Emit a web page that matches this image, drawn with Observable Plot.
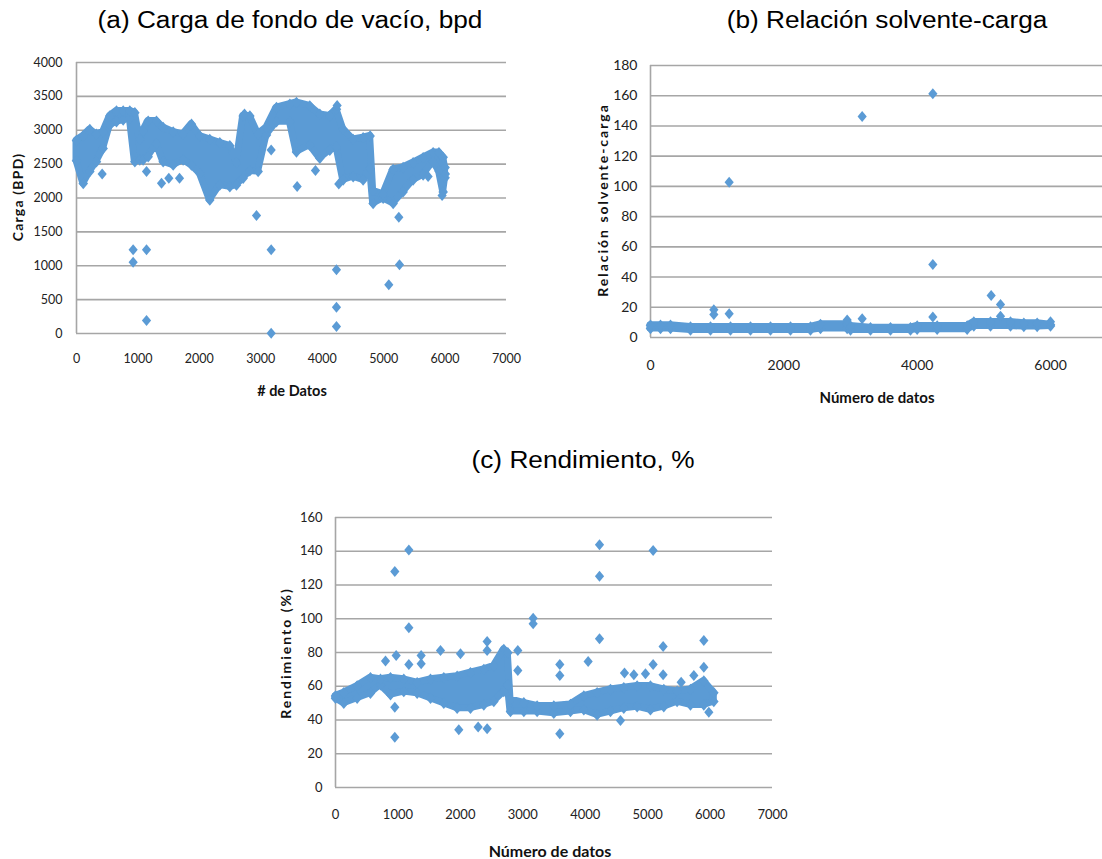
<!DOCTYPE html>
<html><head><meta charset="utf-8">
<script src="https://cdn.jsdelivr.net/npm/d3@7"></script>
<script src="https://cdn.jsdelivr.net/npm/@observablehq/plot@0.6"></script>
<style>
body{margin:0;background:#fff;}
#root{position:relative;width:1102px;height:859px;overflow:hidden;background:#fff;}
.title{position:absolute;font-family:"Liberation Sans",Arial,sans-serif;font-size:23px;color:#000;white-space:nowrap;}
.axt{position:absolute;font-family:Lato,sans-serif;font-weight:bold;font-size:14px;color:#111;white-space:nowrap;}
.panel{position:absolute;}
</style></head><body><div id="root"></div>
<script>
// ---------- Panel (a): Carga de fondo de vacío ----------
const aBandX  = [0,110,217,325,434,543,651,760,868,950,1031,1085,1167,1302,1411,1574,1736,1872,2008,2170,2333,2496,2604,2713,2822,2957,3093,3256,3473,3581,3798,3961,4124,4232,4341,4504,4666,4780,4829,4992,5155,5317,5480,5643,5806,5900,5969,6000];
const aBandLo = [2550,2215,2390,2535,2730,3075,3125,3150,3175,2535,2560,2560,2610,2800,2535,2485,2560,2485,2360,1970,2190,2165,2190,2290,2400,2390,2930,3125,3125,2680,2780,2585,2705,2755,2265,2315,2265,2435,1920,1995,1920,2090,2265,2340,2535,2400,2090,2300];
const aBandHi = [2850,2915,3010,2940,2975,3210,3285,3285,3285,3260,2865,2990,3135,3135,3040,2975,2940,3090,2915,2865,2815,2770,2520,3210,3210,2940,3040,3335,3385,3410,3360,3235,3210,3310,3015,2865,2890,2915,2105,2055,2420,2450,2520,2595,2670,2670,2600,2450];
const aOutX = [922,922,1140,1140,2930,3169,3169,3169,4232,4232,4232,5084,5247,5258,3592,5724,1384,1503,1677,1140,418,3890,4270,6006,5952,4243,2735];
const aOutY = [1235,1053,1235,192,1741,2710,1235,5,940,389,103,718,1717,1013,2170,2317,2218,2292,2292,2390,2356,2405,2208,2356,2036,3365,3241];
const aXTicks = [0,1000,2000,3000,4000,5000,6000,7000];
const aYTicks = [0,500,1000,1500,2000,2500,3000,3500,4000];

// ---------- Panel (b): Relación solvente-carga ----------
const bBandX  = [0,150,300,600,900,1200,1500,1800,2100,2400,2550,2950,3000,3300,3600,3900,4000,4300,4750,4850,5100,5400,5600,5800,6000];
const bBandLo = [6.0,6.0,6.0,4.9,4.9,4.9,4.9,4.9,4.9,4.9,6.0,6.0,4.9,4.9,4.9,4.9,5.4,5.4,5.4,7.6,7.6,7.6,7.2,7.2,7.6];
const bBandHi = [8.1,8.1,8.1,7.0,7.0,7.0,7.0,7.0,7.0,7.0,8.7,8.7,7.6,6.5,6.5,6.5,7.6,7.6,7.6,10.3,10.3,10.3,9.4,9.4,8.4];
const bOutX = [1180,3175,4235,4235,5110,5250,950,950,1180,2950,3175,4235,5250,6000];
const bOutY = [102.8,146.3,161.3,48.3,27.8,21.8,18.3,15.2,15.7,11.5,12.4,13.5,14,10.5];
const bXTicks = [0,2000,4000,6000];
const bYTicks = [0,20,40,60,80,100,120,140,160,180];

// ---------- Panel (c): Rendimiento ----------
const cBandX  = [0,133,347,560,721,881,1094,1308,1522,1735,1949,2162,2376,2536,2696,2760,2803,3017,3230,3497,3764,3978,4191,4405,4618,4832,5045,5259,5472,5686,5900,6060];
const cBandLo = [52.9,49.9,52.9,55.8,60.8,54.9,56.8,55.8,52.9,49.9,47.0,47.0,48.9,50.9,56.8,60.8,45.0,45.0,45.0,44.0,45.0,46.0,43.0,45.0,47.0,47.9,46.0,47.9,50.9,48.9,48.9,50.9];
const cBandHi = [54.2,56.2,60.1,65.0,64.1,65.0,64.1,62.1,64.1,65.0,66.0,68.0,70.0,72.0,81.8,79.9,52.2,50.2,48.3,48.3,49.2,54.2,56.2,58.1,59.1,60.1,60.1,58.1,57.1,58.1,63.1,56.2];
const cOutX = [950,950,1175,1175,4229,4229,4229,5088,3166,3166,5900,5248,2429,2429,2920,1682,2002,4047,5088,3593,3593,1975,2285,2429,801,972,1175,1372,1372,2920,4565,5980,950,5248,4629,4965,4779,5900,5537,5740,3593];
const cOutY = [128,29.8,140.8,94.6,143.8,125.2,88.1,140.4,100.3,97,87.1,83.6,86.5,81.2,81.2,81.2,79.2,74.7,72.9,72.9,31.8,34.2,35.8,34.8,74.9,78.2,72.9,78.2,73.3,69.3,39.7,44.6,47.6,66.8,67.8,67.4,66.8,71.3,62.4,66.4,66.4];
const cXTicks = [0,1000,2000,3000,4000,5000,6000,7000];
const cYTicks = [0,20,40,60,80,100,120,140,160];

// ---------- helpers ----------
const BLUE = "#5b9bd5";
const GRID = "#a6a6a6";
const diamond = {draw(ctx, size){ const r = Math.sqrt(size/Math.PI); ctx.moveTo(0,-1.1*r); ctx.lineTo(0.92*r,0); ctx.lineTo(0,1.1*r); ctx.lineTo(-0.92*r,0); ctx.closePath(); }};
const root = document.getElementById("root");

function band(xs, lo, hi){ return xs.map((x,i)=>({x, lo: lo[i], hi: hi[i]})); }
function pts(xs, ys){ return xs.map((x,i)=>({x, y: ys[i]})); }

function panel(o){
  const b = band(o.bx, o.blo, o.bhi);
  const out = pts(o.ox, o.oy);
  const chart = Plot.plot({
    width: o.width, height: o.height,
    marginTop: o.mt, marginBottom: o.mb, marginLeft: o.ml, marginRight: o.mr,
    x: {domain: o.xDomain, axis: null},
    y: {domain: o.yDomain, axis: null},
    style: {fontFamily: "Lato, sans-serif", fontSize: o.fs + "px", color: "#222", background: "transparent", overflow: "visible"},
    marks: [
      Plot.gridY(o.yTicks, {stroke: GRID, strokeOpacity: 1, strokeWidth: 1.6}),
      Plot.ruleX([0], {y1: o.yDomain[0], y2: o.yDomain[1], stroke: GRID, strokeWidth: 1.6}),
      Plot.axisY(o.yTicks, {anchor: "left", tickSize: 0, tickPadding: o.ytp, label: null, tickFormat: d3.format("d")}),
      Plot.axisX(o.xTicks, {anchor: "bottom", tickSize: 0, tickPadding: o.xtp, label: null, tickFormat: d3.format("d")}),
      Plot.areaY(b, {x: "x", y1: "lo", y2: "hi", fill: BLUE, stroke: BLUE, strokeWidth: 7, strokeLinejoin: "round", curve: "linear"}),
      Plot.dot(b, {x: "x", y: "lo", r: 5.2, symbol: diamond, fill: BLUE, stroke: "none"}),
      Plot.dot(b, {x: "x", y: "hi", r: 5.2, symbol: diamond, fill: BLUE, stroke: "none"}),
      Plot.dot(out, {x: "x", y: "y", r: 5, symbol: diamond, fill: BLUE, stroke: "none"})
    ]
  });
  chart.classList.add("panel");
  chart.style.left = o.left + "px";
  chart.style.top = o.top + "px";
  root.appendChild(chart);
}

function addText(cls, text, x, y, opts = {}){
  const d = document.createElement("div");
  d.className = cls;
  d.textContent = text;
  d.style.left = x + "px";
  d.style.top = y + "px";
  if (opts.size) d.style.fontSize = opts.size + "px";
  if (opts.ls) d.style.letterSpacing = opts.ls + "px";
  const sx = opts.sx || 1;
  d.style.transform = opts.rotate ? "translate(-50%,-50%) rotate(-90deg)" : `translate(-50%,-50%) scaleX(${sx})`;
  root.appendChild(d);
}

// Panel a
panel({left: 0, top: 40, width: 530, height: 370, mt: 22, mb: 77, ml: 76, mr: 24,
  xDomain: [0, 7000], yDomain: [0, 4000], xTicks: aXTicks, yTicks: aYTicks,
  bx: aBandX, blo: aBandLo, bhi: aBandHi, ox: aOutX, oy: aOutY, fs: 12.5, ytp: 14, xtp: 21});
// Panel b
panel({left: 570, top: 40, width: 532, height: 370, mt: 25, mb: 73, ml: 80, mr: 0,
  xDomain: [0, 6780], yDomain: [0, 180], xTicks: bXTicks, yTicks: bYTicks,
  bx: bBandX, blo: bBandLo, bhi: bBandHi, ox: bOutX, oy: bOutY, fs: 14, ytp: 13, xtp: 23});
// Panel c
panel({left: 250, top: 490, width: 560, height: 369, mt: 27, mb: 72, ml: 85, mr: 38,
  xDomain: [0, 7000], yDomain: [0, 160], xTicks: cXTicks, yTicks: cYTicks,
  bx: cBandX, blo: cBandLo, bhi: cBandHi, ox: cOutX, oy: cOutY, fs: 13, ytp: 13, xtp: 22});

// titles
addText("title", "(a) Carga de fondo de vacío, bpd", 290, 20, {sx: 1.14});
addText("title", "(b) Relación solvente-carga", 887, 20, {sx: 1.14});
addText("title", "(c) Rendimiento, %", 583, 460, {sx: 1.14});
// axis titles
addText("axt", "Carga (BPD)", 17, 197, {rotate: true, ls: 1.2});
addText("axt", "# de Datos", 292, 390, {size: 14.5});
addText("axt", "Relación solvente-carga", 602, 200, {rotate: true, ls: 2});
addText("axt", "Número de datos", 877, 397, {size: 15});
addText("axt", "Rendimiento (%)", 285, 653, {rotate: true, ls: 2});
addText("axt", "Número de datos", 550, 850, {size: 16});
</script>
</body></html>
